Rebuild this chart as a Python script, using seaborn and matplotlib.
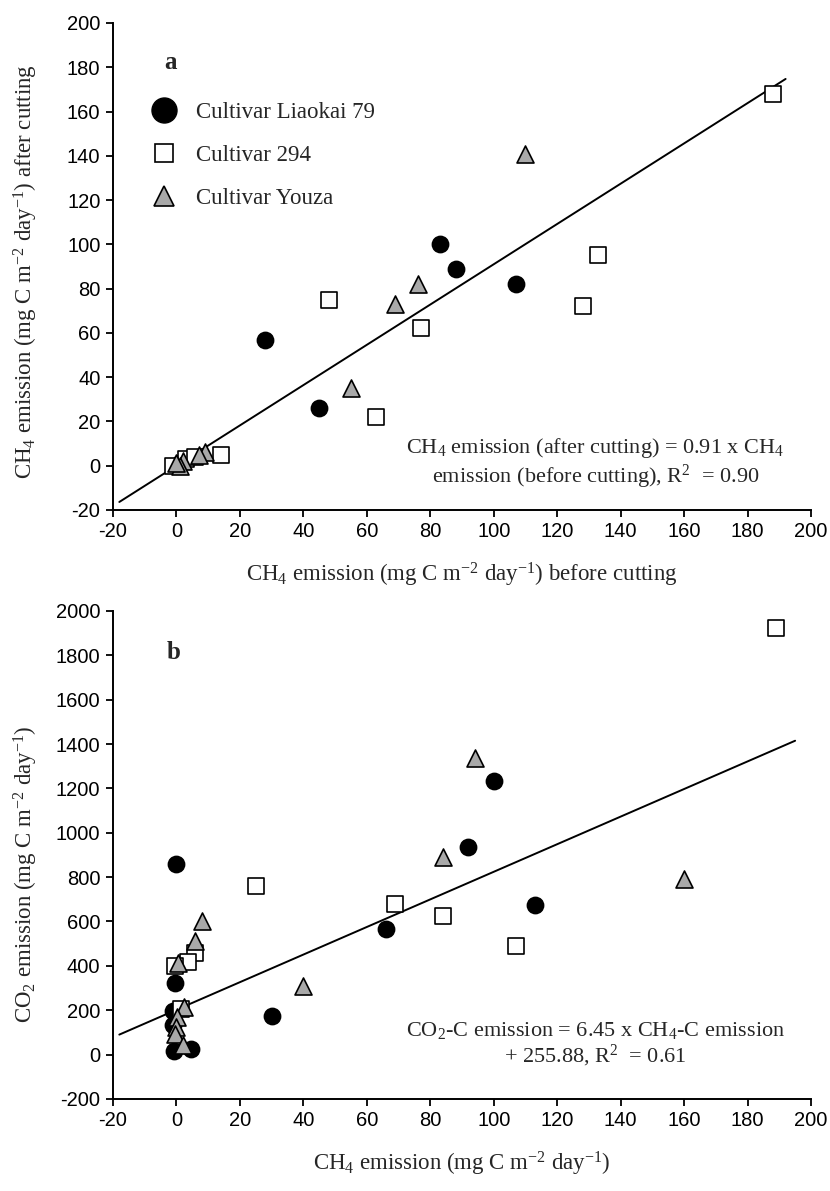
import numpy as np
import pandas as pd
import matplotlib
matplotlib.use("Agg")
import matplotlib.pyplot as plt
import seaborn as sns
from matplotlib.lines import Line2D

sns.set_theme(style="ticks")
plt.rcParams['font.family'] = ['Liberation Sans', 'DejaVu Sans']
plt.rcParams['axes.unicode_minus'] = False
plt.rcParams['mathtext.fontset'] = 'custom'
plt.rcParams['mathtext.rm'] = 'Liberation Serif'
plt.rcParams['mathtext.it'] = 'Liberation Serif:italic'
plt.rcParams['mathtext.bf'] = 'Liberation Serif:bold'

# ---- panel a: CH4 after vs before cutting ----
circ_a_x = [28, 45, 83, 88, 107, 1]
circ_a_y = [57, 26, 100, 89, 82, 1]
sq_a_x = [188, 133, 128, 77, 63, 48, 14, -1, 3, 6]
sq_a_y = [168, 95, 72, 62, 22, 75, 5, 0, 3, 4]
tri_a_x = [110, 76, 69, 55, 9, 7, 2, 1, 0]
tri_a_y = [141, 82, 73, 35, 6, 5, 2, 0, 1]
fit_a_x = [-18, 192]
slope_a = 0.91

# ---- panel b: CO2 vs CH4 ----
circ_b_x = [100, 92, 113, 66, 30, 0, -0.6, -1, -1, -0.9, 4.5]
circ_b_y = [1232, 937, 674, 568, 176, 860, 322, 195, 135, 16, 26]
sq_b_x = [189, 107, 84, 69, 25, 6, 3.7, -0.6, 1.6]
sq_b_y = [1922, 488, 624, 681, 762, 457, 417, 401, 206]
tri_b_x = [94, 84, 160, 40, 8, 6, 0.4, 2.3, 0.2, 0, -0.3, 2.1]
tri_b_y = [1336, 889, 791, 310, 601, 514, 412, 213, 168, 123, 93, 41]
fit_b_x = [-18, 195]
fit_b_y = [90, 1415]

cultivars = ['Cultivar Liaokai 79', 'Cultivar 294', 'Cultivar Youza']
markers = {'Cultivar Liaokai 79': 'o', 'Cultivar 294': 's', 'Cultivar Youza': '^'}
colors = {'Cultivar Liaokai 79': 'black', 'Cultivar 294': 'white', 'Cultivar Youza': '#a9a9a9'}
sizes = {'Cultivar Liaokai 79': 135, 'Cultivar 294': 120, 'Cultivar Youza': 150}


def make_df(cx, cy, sx, sy, tx, ty):
    parts = []
    for name, xs, ys in zip(cultivars, [cx, sx, tx], [cy, sy, ty]):
        parts.append(pd.DataFrame({'x': xs, 'y': ys, 'cultivar': name}))
    return pd.concat(parts, ignore_index=True)


df_a = make_df(circ_a_x, circ_a_y, sq_a_x, sq_a_y, tri_a_x, tri_a_y)
df_b = make_df(circ_b_x, circ_b_y, sq_b_x, sq_b_y, tri_b_x, tri_b_y)

fig = plt.figure(figsize=(8.3, 11.91), dpi=100)
ax_a = fig.add_axes([0.1361, 0.5718, 0.841, 0.4089])
ax_b = fig.add_axes([0.1361, 0.0773, 0.841, 0.4097])

serif = ['Liberation Serif', 'DejaVu Serif']


def draw_points(ax, df):
    ax.set_facecolor('white')
    for name in cultivars:
        sub = df[df['cultivar'] == name]
        sns.scatterplot(data=sub, x='x', y='y', marker=markers[name], color=colors[name],
                        edgecolor='black', linewidth=1.2, s=sizes[name], ax=ax,
                        legend=False, zorder=3)


def style_axis(ax, yticks):
    sns.despine(ax=ax)
    for sp in ['left', 'bottom']:
        ax.spines[sp].set_linewidth(1.4)
        ax.spines[sp].set_color('black')
    ax.set_xlim(-20, 200)
    ax.set_xticks(np.arange(-20, 201, 20))
    ax.set_ylim(yticks[0], yticks[-1])
    ax.set_yticks(yticks)
    ax.tick_params(direction='out', length=5, width=1.3, labelsize=14.5,
                   colors='black', pad=4)


# panel a
draw_points(ax_a, df_a)
xa = np.array(fit_a_x)
ax_a.plot(xa, slope_a * xa, color='black', lw=1.4, zorder=2)
style_axis(ax_a, np.arange(-20, 201, 20))
ax_a.set_xlabel('CH$_4$ emission (mg C m$^{-2}$ day$^{-1}$) before cutting',
                family=serif, fontsize=16.5, labelpad=14)
ax_a.set_ylabel('CH$_4$ emission (mg C m$^{-2}$ day$^{-1}$) after cutting',
                family=serif, fontsize=16.5)
ax_a.yaxis.set_label_coords(-0.105, 0.49)
ax_a.text(-2, 182, 'a', family=serif, fontsize=18, fontweight='bold', ha='center', va='center')
ax_a.text(132, 1, 'CH$_4$ emission (after cutting) = 0.91 x CH$_4$\n'
          'emission (before cutting), R$^2$  = 0.90',
          family=serif, fontsize=16, ha='center', va='center', linespacing=1.1)

handles = [Line2D([], [], ls='', marker='o', ms=18, mfc='black', mec='black'),
           Line2D([], [], ls='', marker='s', ms=12.5, mfc='white', mec='black', mew=1.2),
           Line2D([], [], ls='', marker='^', ms=14, mfc='#a9a9a9', mec='black', mew=1.2)]
leg = ax_a.legend(handles, cultivars, loc='upper left', bbox_to_anchor=(0.025, 0.88),
                  frameon=False, prop={'family': serif, 'size': 16.5},
                  labelspacing=0.95, handlelength=1.1, handletextpad=0.85)

# panel b
draw_points(ax_b, df_b)
ax_b.plot(fit_b_x, fit_b_y, color='black', lw=1.4, zorder=2)
style_axis(ax_b, np.arange(-200, 2001, 200))
ax_b.set_xlabel('CH$_4$ emission (mg C m$^{-2}$ day$^{-1}$)',
                family=serif, fontsize=16.5, labelpad=14)
ax_b.set_ylabel('CO$_2$ emission (mg C m$^{-2}$ day$^{-1}$)', family=serif, fontsize=16.5)
ax_b.yaxis.set_label_coords(-0.105, 0.46)
ax_b.text(-1, 1814, 'b', family=serif, fontsize=18, fontweight='bold', ha='center', va='center')
ax_b.text(132, 45, 'CO$_2$-C emission = 6.45 x CH$_4$-C emission\n'
          '+ 255.88, R$^2$  = 0.61',
          family=serif, fontsize=16, ha='center', va='center', linespacing=1.1)

fig.savefig('out.png', dpi=100, facecolor='white')
